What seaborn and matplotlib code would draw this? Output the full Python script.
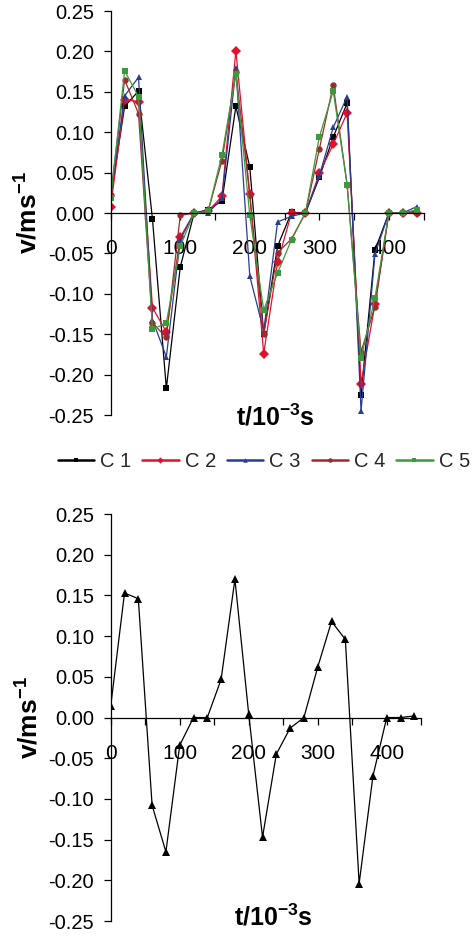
import numpy as np
import pandas as pd
import matplotlib
matplotlib.use("Agg")
import matplotlib.pyplot as plt
from matplotlib.lines import Line2D
from matplotlib.ticker import FixedLocator, FormatStrFormatter
import seaborn as sns

# time axis, milliseconds
t_ms = list(range(0, 441, 20))

# velocity (m/s) for each of the five curves
c1 = [0.020, 0.132, 0.151, -0.007, -0.217, -0.067, 0.000, 0.004, 0.015, 0.132, 0.057, -0.150,
      -0.041, 0.001, 0.000, 0.044, 0.094, 0.136, -0.225, -0.046, 0.000, 0.000, 0.002]
c2 = [0.008, 0.140, 0.138, -0.117, -0.147, -0.030, 0.000, 0.002, 0.021, 0.201, 0.023, -0.174,
      -0.061, 0.000, 0.000, 0.049, 0.085, 0.124, -0.211, -0.113, 0.000, 0.000, 0.000]
c3 = [0.020, 0.145, 0.168, -0.132, -0.178, -0.033, 0.000, 0.000, 0.018, 0.179, -0.078, -0.146,
      -0.011, -0.004, 0.000, 0.046, 0.106, 0.144, -0.245, -0.051, 0.000, 0.000, 0.008]
c4 = [0.022, 0.165, 0.123, -0.136, -0.154, -0.003, 0.000, 0.002, 0.065, 0.175, 0.022, -0.150,
      -0.049, -0.032, 0.000, 0.079, 0.158, 0.035, -0.172, -0.116, 0.000, 0.000, 0.000]
c5 = [0.019, 0.176, 0.144, -0.144, -0.136, -0.041, 0.000, 0.002, 0.072, 0.172, -0.003, -0.120,
      -0.074, -0.033, 0.000, 0.094, 0.151, 0.035, -0.180, -0.105, 0.000, 0.000, 0.004]

# averaged curve shown in the lower panel
mean_v = [0.014, 0.153, 0.146, -0.108, -0.165, -0.034, 0.000, 0.000, 0.047, 0.170, 0.004, -0.147,
          -0.045, -0.013, 0.000, 0.062, 0.118, 0.096, -0.204, -0.072, 0.000, 0.000, 0.002]

series_names = ["C 1", "C 2", "C 3", "C 4", "C 5"]
series_vals = [c1, c2, c3, c4, c5]
series_colors = ["#000000", "#E0102F", "#283C94", "#9E2A2F", "#3C9A3C"]
series_markers = ["s", "D", "^", "o", "s"]

y_ticks = [-0.25, -0.20, -0.15, -0.10, -0.05, 0.00, 0.05, 0.10, 0.15, 0.20, 0.25]
x_major = [0, 100, 200, 300, 400]
x_minor = [50, 150, 250, 350, 450]

df = pd.DataFrame({
    "t": np.tile(t_ms, len(series_names)),
    "v": np.concatenate(series_vals),
    "series": np.repeat(series_names, len(t_ms)),
})

sns.set_theme(style="white")
plt.rcParams.update({
    "font.family": ["Liberation Sans", "DejaVu Sans"],
    "mathtext.fontset": "custom",
    "mathtext.rm": "Liberation Sans",
    "mathtext.bf": "Liberation Sans:bold",
    "mathtext.default": "bf",
    "axes.unicode_minus": False,
})

fig = plt.figure(figsize=(4.77, 9.36), dpi=100)
fig.patch.set_facecolor("white")
ax1 = fig.add_axes([0.2321, 0.5566, 0.656, 0.4316])
ax2 = fig.add_axes([0.2321, 0.016, 0.651, 0.4348])

sns.lineplot(data=df, x="t", y="v", hue="series", style="series",
             palette=dict(zip(series_names, series_colors)),
             markers=dict(zip(series_names, series_markers)), dashes=False,
             estimator=None, sort=False, legend=False, ax=ax1,
             linewidth=0.9, markersize=4.6, markeredgewidth=0)

sns.lineplot(x=t_ms, y=mean_v, ax=ax2, color="black", marker="^",
             estimator=None, linewidth=0.9, markersize=5.6, markeredgewidth=0)


def style_axes(ax, label_y):
    ax.set_facecolor("white")
    ax.set_xlim(0, 450)
    ax.set_ylim(-0.25, 0.25)
    ax.set_yticks(y_ticks)
    ax.yaxis.set_major_formatter(FormatStrFormatter("%.2f"))
    ax.xaxis.set_major_locator(FixedLocator(x_major))
    ax.xaxis.set_minor_locator(FixedLocator(x_minor))
    ax.set_xticklabels([str(v) for v in x_major])
    for side in ("top", "right"):
        ax.spines[side].set_visible(False)
    ax.spines["bottom"].set_position(("data", 0))
    for side in ("left", "bottom"):
        ax.spines[side].set_color("black")
        ax.spines[side].set_linewidth(0.9)
    ax.tick_params(axis="y", which="major", direction="out", length=5, width=0.9,
                   pad=7, labelsize=14.5, colors="black", left=True)
    ax.tick_params(axis="x", which="both", direction="out", length=5, width=0.9,
                   pad=14, labelsize=15, colors="black", bottom=True)
    ax.set_xlabel("")
    ax.set_ylabel("v/ms$^{-1}$", fontsize=19, fontweight="bold", color="black")
    ax.yaxis.set_label_coords(-0.263, 0.5)
    ax.yaxis.label.set_va("center")
    ax.text(0.525, label_y, "t/10$^{-3}$s", transform=ax.transAxes, ha="center",
            va="baseline", fontsize=18, fontweight="bold", color="black")
    ax.grid(False)


style_axes(ax1, -0.027)
style_axes(ax2, -0.012)

handles = [Line2D([], [], color=c, marker=m, markersize=3.2, markeredgewidth=0, linewidth=1.8)
           for c, m in zip(series_colors, series_markers)]
fig.legend(handles, series_names, loc="center", bbox_to_anchor=(0.553, 0.5067), ncol=5,
           frameon=False, fontsize=14.5, handlelength=1.8, handletextpad=0.3,
           columnspacing=0.55, borderaxespad=0, borderpad=0)

fig.savefig("out.png", dpi=100, facecolor="white")
